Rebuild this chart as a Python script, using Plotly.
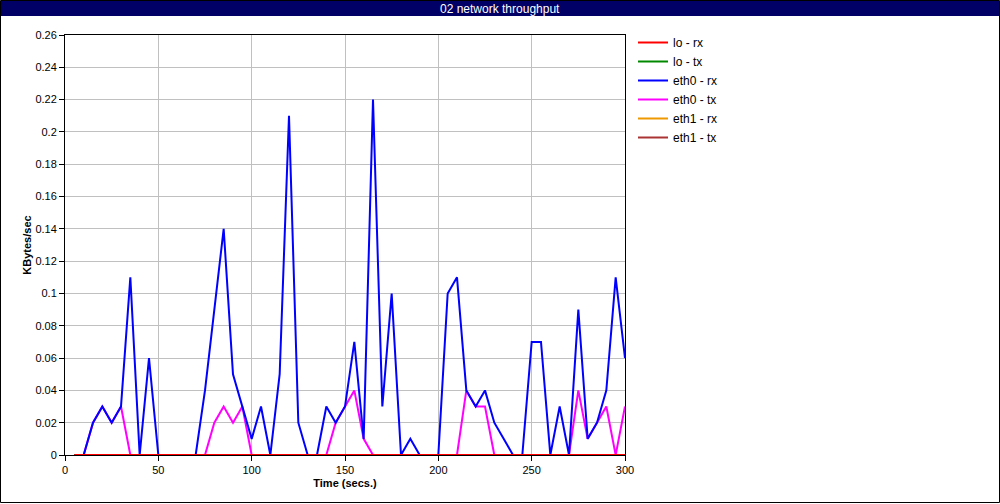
import plotly.graph_objects as go

# ---- data ----
time_s = list(range(5, 305, 5))

lo_rx = [0.0] * 60
lo_tx = [0.0] * 60
eth0_rx = [0, 0, 0.02, 0.03, 0.02, 0.03, 0.11, 0, 0.06, 0,
           0, 0, 0, 0, 0.04, 0.09, 0.14, 0.05, 0.03, 0.01,
           0.03, 0, 0.05, 0.21, 0.02, 0, 0, 0.03, 0.02, 0.03,
           0.07, 0.01, 0.22, 0.03, 0.10, 0, 0.01, 0, 0, 0,
           0.10, 0.11, 0.04, 0.03, 0.04, 0.02, 0.01, 0, 0, 0.07,
           0.07, 0, 0.03, 0, 0.09, 0.01, 0.02, 0.04, 0.11, 0.06]
eth0_tx = [0, 0, 0.02, 0.03, 0.02, 0.03, 0, 0, 0, 0,
           0, 0, 0, 0, 0, 0.02, 0.03, 0.02, 0.03, 0,
           0, 0, 0, 0, 0, 0, 0, 0, 0.02, 0.03,
           0.04, 0.01, 0, 0, 0, 0, 0, 0, 0, 0,
           0, 0, 0.04, 0.03, 0.03, 0, 0, 0, 0, 0,
           0, 0, 0, 0, 0.04, 0.01, 0.02, 0.03, 0, 0.03]
eth1_rx = [0.0] * 60
eth1_tx = [0.0] * 60

series_names = ["lo - rx", "lo - tx", "eth0 - rx", "eth0 - tx", "eth1 - rx", "eth1 - tx"]
series_values = [lo_rx, lo_tx, eth0_rx, eth0_tx, eth1_rx, eth1_tx]
series_colors = ["#ff0000", "#008800", "#0000ff", "#ff00ff", "#ee9900", "#aa3333"]

x_ticks = [0, 50, 100, 150, 200, 250, 300]
y_ticks = [round(i * 0.02, 2) for i in range(14)]

FONT = "Liberation Sans"

fig = go.Figure()
# draw in reverse so first series is on top
for name, vals, col in reversed(list(zip(series_names, series_values, series_colors))):
    fig.add_trace(go.Scatter(x=time_s, y=vals, mode="lines", name=name,
                             line=dict(color=col, width=2)))

# geometry helpers (pixel -> paper)
L, R, T, B = 65, 375, 35, 49
W, H = 1000, 504
PW, PH = W - L - R, H - T - B
def px(xp):
    return (xp - L) / PW
def py(yp):
    return (H - B - yp) / PH

fig.update_layout(
    width=W, height=H,
    margin=dict(l=L, r=R, t=T, b=B, pad=0),
    paper_bgcolor="white", plot_bgcolor="white",
    font=dict(family=FONT, size=11, color="black"),
    showlegend=True,
    legend=dict(traceorder="reversed", x=px(633), xanchor="left", y=py(28), yanchor="top",
                font=dict(family=FONT, size=12, color="black"),
                bgcolor="rgba(0,0,0,0)", borderwidth=0, tracegroupgap=0),
    shapes=[
        dict(type="rect", xref="paper", yref="paper",
             x0=px(0), x1=px(1000), y0=py(1), y1=py(16),
             fillcolor="#000066", line=dict(width=0), layer="above"),
        dict(type="rect", xref="paper", yref="paper",
             x0=px(0.5), x1=px(999.5), y0=py(502.5), y1=py(0.5),
             fillcolor="rgba(0,0,0,0)", line=dict(color="black", width=1), layer="above"),
    ],
    annotations=[
        dict(text="02 network throughput", xref="paper", yref="paper",
             x=px(500), y=py(8.5), xanchor="center", yanchor="middle",
             showarrow=False, font=dict(family=FONT, size=12, color="white")),
    ],
)

fig.update_xaxes(
    range=[0, 300], tickvals=x_ticks, ticks="outside", ticklen=5, tickcolor="black",
    showline=True, linecolor="black", linewidth=1, mirror=True,
    showgrid=True, gridcolor="#c0c0c0", gridwidth=1, zeroline=False,
    title=dict(text="<b>Time (secs.)</b>", font=dict(family=FONT, size=11), standoff=4),
)
fig.update_yaxes(
    range=[0, 0.26], tickvals=y_ticks, ticks="outside", ticklen=5, tickcolor="black",
    showline=True, linecolor="black", linewidth=1, mirror=True,
    showgrid=True, gridcolor="#c0c0c0", gridwidth=1, zeroline=False,
    title=dict(text="<b>KBytes/sec</b>", font=dict(family=FONT, size=11), standoff=1),
)

fig.write_html("out.html", config={"displayModeBar": False},
               post_script="document.body.style.margin='0';document.body.style.padding='0';")
